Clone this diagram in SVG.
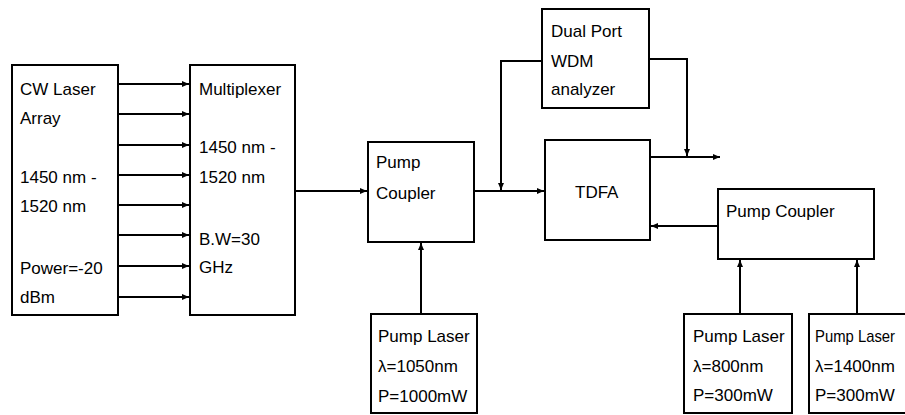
<svg xmlns="http://www.w3.org/2000/svg" width="905" height="415" viewBox="0 0 905 415">
<style>
.box{fill:#fff;stroke:#000;stroke-width:2}
.ln{fill:none;stroke:#000;stroke-width:2}
.t{font-family:"Liberation Sans",Arial,sans-serif;font-size:17px;fill:#000}
</style>
<defs>
<marker id="ah" markerWidth="8" markerHeight="8" refX="7" refY="4" orient="auto" markerUnits="userSpaceOnUse">
<path d="M0,1 L7,4 L0,7 Z" fill="#000"/>
</marker>
</defs>
<rect width="905" height="415" fill="#fff"/>
<g id="cw-laser">
<rect class="box" x="12" y="65" width="106" height="250"/>
<text class="t" x="20" y="95">CW Laser</text>
<text class="t" x="20" y="124">Array</text>
<text class="t" x="20" y="183">1450 nm -</text>
<text class="t" x="20" y="212">1520 nm</text>
<text class="t" x="20" y="274">Power=-20</text>
<text class="t" x="20" y="303">dBm</text>
</g>
<g id="multiplexer">
<rect class="box" x="190" y="65" width="105" height="250"/>
<text class="t" x="199" y="95">Multiplexer</text>
<text class="t" x="199" y="153">1450 nm -</text>
<text class="t" x="199" y="183">1520 nm</text>
<text class="t" x="199" y="245">B.W=30</text>
<text class="t" x="199" y="273">GHz</text>
</g>
<g id="pump-coupler-1">
<rect class="box" x="368" y="142" width="106" height="100"/>
<text class="t" x="376" y="168">Pump</text>
<text class="t" x="376" y="199">Coupler</text>
</g>
<g id="tdfa">
<rect class="box" x="545" y="140" width="105" height="100"/>
<text class="t" x="575" y="198">TDFA</text>
</g>
<g id="wdm-analyzer">
<rect class="box" x="542" y="9" width="107" height="99"/>
<text class="t" x="551" y="37">Dual Port</text>
<text class="t" x="551" y="67">WDM</text>
<text class="t" x="551" y="95">analyzer</text>
</g>
<g id="pump-coupler-2">
<rect class="box" x="718" y="189" width="156" height="70"/>
<text class="t" x="726" y="217">Pump Coupler</text>
</g>
<g id="pump-laser-1050">
<rect class="box" x="371" y="314" width="106" height="99"/>
<text class="t" x="378" y="342">Pump Laser</text>
<text class="t" x="378" y="372">λ=1050nm</text>
<text class="t" x="378" y="402">P=1000mW</text>
</g>
<g id="pump-laser-800">
<rect class="box" x="684" y="314" width="108" height="99"/>
<text class="t" x="693" y="342">Pump Laser</text>
<text class="t" x="693" y="372">λ=800nm</text>
<text class="t" x="693" y="401">P=300mW</text>
</g>
<g id="pump-laser-1400">
<rect class="box" x="809" y="314" width="110" height="99"/>
<text class="t" x="815" y="342" textLength="80" lengthAdjust="spacingAndGlyphs">Pump Laser</text>
<text class="t" x="815" y="372">λ=1400nm</text>
<text class="t" x="815" y="401">P=300mW</text>
</g>
<g id="connectors">
<line class="ln" x1="118" y1="84" x2="189" y2="84" marker-end="url(#ah)"/>
<line class="ln" x1="118" y1="114" x2="189" y2="114" marker-end="url(#ah)"/>
<line class="ln" x1="118" y1="145" x2="189" y2="145" marker-end="url(#ah)"/>
<line class="ln" x1="118" y1="175" x2="189" y2="175" marker-end="url(#ah)"/>
<line class="ln" x1="118" y1="205" x2="189" y2="205" marker-end="url(#ah)"/>
<line class="ln" x1="118" y1="235" x2="189" y2="235" marker-end="url(#ah)"/>
<line class="ln" x1="118" y1="266" x2="189" y2="266" marker-end="url(#ah)"/>
<line class="ln" x1="118" y1="297" x2="189" y2="297" marker-end="url(#ah)"/>
<line class="ln" x1="295" y1="191" x2="367" y2="191" marker-end="url(#ah)"/>
<line class="ln" x1="474" y1="191" x2="544" y2="191" marker-end="url(#ah)"/>
<polyline class="ln" points="542,61 501,61 501,190" marker-end="url(#ah)"/>
<polyline class="ln" points="649,59 687,59 687,156" marker-end="url(#ah)"/>
<line class="ln" x1="650" y1="157" x2="720" y2="157" marker-end="url(#ah)"/>
<line class="ln" x1="718" y1="226" x2="651" y2="226" marker-end="url(#ah)"/>
<line class="ln" x1="421" y1="314" x2="421" y2="243" marker-end="url(#ah)"/>
<line class="ln" x1="740" y1="314" x2="740" y2="260" marker-end="url(#ah)"/>
<line class="ln" x1="857" y1="314" x2="857" y2="260" marker-end="url(#ah)"/>
</g>
</svg>
